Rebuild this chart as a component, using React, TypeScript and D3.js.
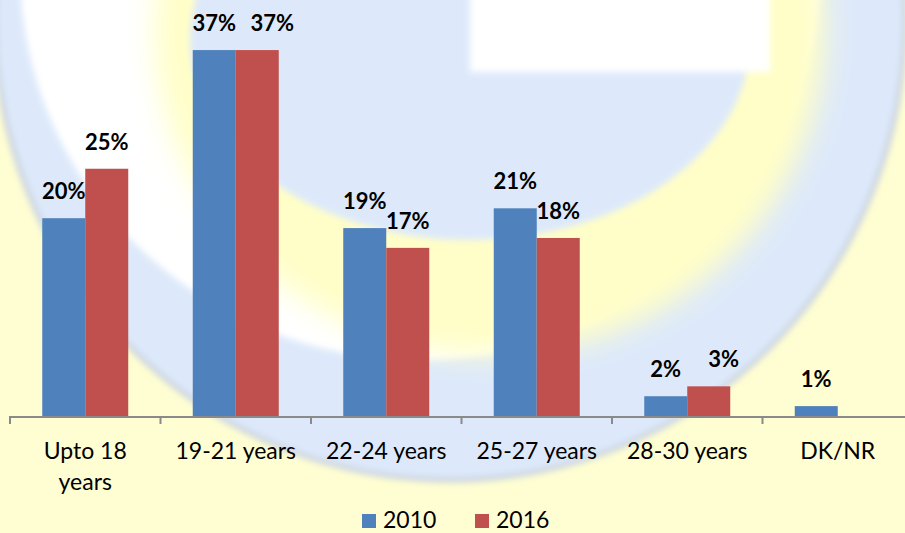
import React from 'react';
import * as d3 from 'd3';

const width = 905;
const height = 533;

// chart data
const categories = ['Upto 18 years', '19-21 years', '22-24 years', '25-27 years', '28-30 years', 'DK/NR'];
const tickLines = [['Upto 18', 'years'], ['19-21 years'], ['22-24 years'], ['25-27 years'], ['28-30 years'], ['DK/NR']];
const seriesNames = ['2010', '2016'];
const values2010 = [20, 37, 19, 21, 2, 1];
const values2016: (number | null)[] = [25, 37, 17, 18, 3, null];
const colors = ['#4F81BD', '#C0504D'];

const baseY = 416;
const fontFam = 'Lato, "Open Sans", sans-serif';

// faded logo behind the plot, only roughly copied
const Watermark = () => (
  <g>
    <defs>
      <filter id="soft" x="-10%" y="-10%" width="120%" height="120%">
        <feGaussianBlur stdDeviation="3" />
      </filter>
      <filter id="softer" x="-20%" y="-20%" width="140%" height="140%">
        <feGaussianBlur stdDeviation="14" />
      </filter>
    </defs>
    <rect x={0} y={0} width={width} height={height} fill="#fffed2" />
    <ellipse cx={450} cy={20} rx={455} ry={460} fill="#dde9fa" stroke="#c9d2e0" strokeWidth={5} filter="url(#soft)" />
    <ellipse cx={420} cy={-30} rx={400} ry={390} fill="#ffffff" filter="url(#soft)" />
    <ellipse cx={490} cy={30} rx={335} ry={325} fill="#fffec8" filter="url(#softer)" />
    <ellipse cx={470} cy={40} rx={280} ry={200} fill="#dde9fb" filter="url(#soft)" />
    <rect x={470} y={-20} width={300} height={92} fill="#ffffff" filter="url(#soft)" />
  </g>
);

export default function App() {
  const x0 = d3.scaleBand<string>().domain(categories).range([10, 10 + 150.5 * categories.length]);
  const bw = x0.bandwidth();
  const barW = 43;
  const x1 = d3.scaleBand<string>().domain(seriesNames).range([(bw - barW * 2) / 2, (bw + barW * 2) / 2]);
  const y = d3.scaleLinear().domain([0, 40]).range([baseY, baseY - 9.89 * 40]);

  const bars: { key: string; x: number; y: number; w: number; h: number; fill: string }[] = [];
  const labels: { key: string; x: number; y: number; text: string }[] = [];
  categories.forEach((c, i) => {
    const vals = [values2010[i], values2016[i]];
    let prev: { l: number; r: number; t: number } | null = null;
    vals.forEach((v, s) => {
      if (v == null) return;
      const bx = (x0(c) ?? 0) + (x1(seriesNames[s]) ?? 0);
      bars.push({ key: c + s, x: bx, y: y(v), w: x1.bandwidth(), h: baseY - y(v), fill: colors[s] });
      let lx = bx + x1.bandwidth() / 2;
      const ly = y(v) - 19;
      const half = 22;
      // nudge a label sideways when it would sit on its neighbour
      if (prev && Math.abs(prev.t - ly) < 17 && lx - half < prev.r) {
        lx += prev.r - (lx - half) + 14;
      }
      prev = { l: lx - half, r: lx + half, t: ly };
      labels.push({ key: c + s, x: lx, y: ly, text: `${v}%` });
    });
  });

  const ticks = d3.range(categories.length + 1).map(i => 10 + i * x0.step());

  return (
    <svg width={width} height={height} style={{ position: 'absolute', left: 0, top: 0 }}>
      <Watermark />
      {bars.map(b => (
        <rect key={b.key} x={b.x} y={b.y} width={b.w} height={b.h} fill={b.fill} />
      ))}
      <line x1={10} x2={width} y1={baseY + 1} y2={baseY + 1} stroke="#8a8a8a" strokeWidth={2} />
      {ticks.map(t => (
        <line key={t} x1={t} x2={t} y1={baseY} y2={baseY + 8} stroke="#8a8a8a" strokeWidth={2} />
      ))}
      {labels.map(l => (
        <text key={l.key} x={l.x} y={l.y} textAnchor="middle" fontFamily={fontFam} fontWeight="bold" fontSize={22} fill="#000">
          {l.text}
        </text>
      ))}
      {categories.map((c, i) => (
        <text key={c} textAnchor="middle" fontFamily={fontFam} fontSize={23} fill="#000">
          {tickLines[i].map((ln, k) => (
            <tspan key={k} x={(x0(c) ?? 0) + bw / 2} y={459 + k * 31}>{ln}</tspan>
          ))}
        </text>
      ))}
      {seriesNames.map((s, i) => (
        <g key={s} transform={`translate(${362 + i * 113},514)`}>
          <rect width={14} height={14} fill={colors[i]} />
          <text x={21} y={14} fontFamily={fontFam} fontSize={23} fill="#000">{s}</text>
        </g>
      ))}
    </svg>
  );
}
